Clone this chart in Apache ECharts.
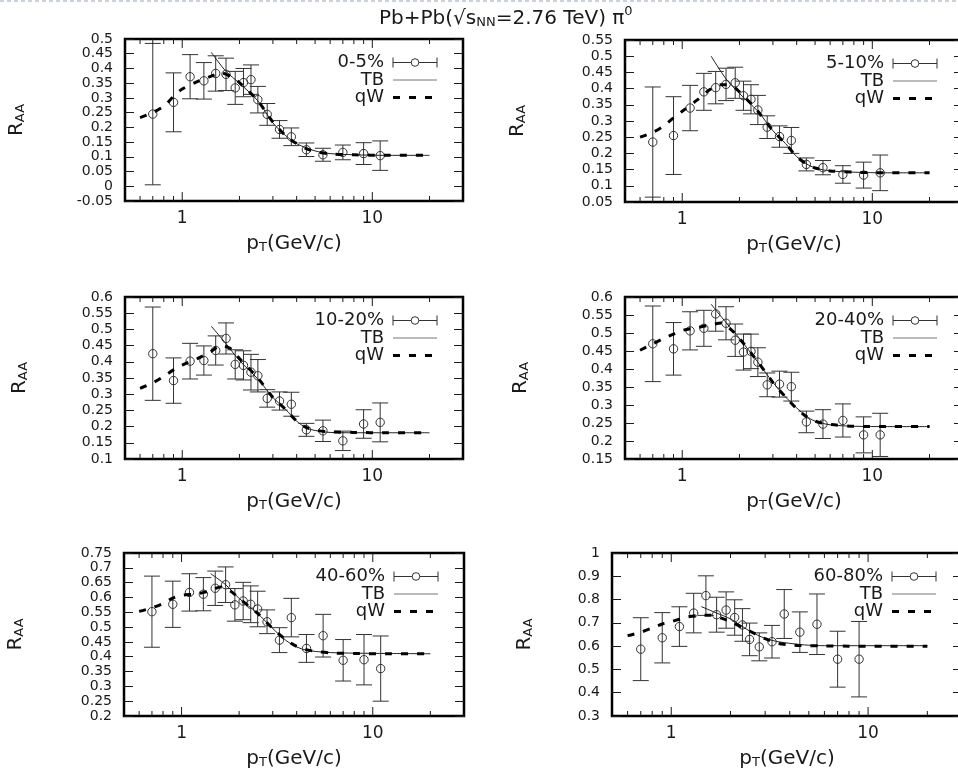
<!DOCTYPE html>
<html><head><meta charset="utf-8">
<script src="https://cdn.jsdelivr.net/npm/echarts@6/dist/echarts.min.js"></script>
<style>html,body{margin:0;padding:0;background:#fff}#c{width:958px;height:773px}</style>
</head><body><div id="c"></div>
<script>
// ---------- DATA ----------
const pT = [0.7,0.9,1.1,1.3,1.5,1.7,1.9,2.1,2.3,2.5,2.8,3.25,3.75,4.5,5.5,7,9,11];
const centralities = ['0-5%','5-10%','10-20%','20-40%','40-60%','60-80%'];

const raa_0_5   = [0.245,0.285,0.372,0.358,0.383,0.38,0.334,0.352,0.362,0.294,0.244,0.193,0.168,0.124,0.107,0.115,0.111,0.104];
const err_0_5   = [0.24,0.10,0.075,0.062,0.06,0.055,0.056,0.048,0.05,0.045,0.037,0.03,0.03,0.023,0.022,0.025,0.037,0.05];
const raa_5_10  = [0.235,0.255,0.34,0.39,0.403,0.413,0.418,0.378,0.367,0.334,0.281,0.252,0.24,0.166,0.156,0.135,0.133,0.14];
const err_5_10  = [0.17,0.12,0.07,0.057,0.05,0.05,0.048,0.045,0.045,0.045,0.035,0.033,0.04,0.02,0.022,0.027,0.04,0.055];
const raa_10_20 = [0.425,0.342,0.402,0.404,0.435,0.472,0.392,0.389,0.368,0.357,0.287,0.279,0.269,0.19,0.187,0.156,0.208,0.213];
const err_10_20 = [0.144,0.07,0.055,0.045,0.045,0.048,0.045,0.045,0.055,0.05,0.027,0.028,0.037,0.02,0.033,0.03,0.044,0.06];
const raa_20_40 = [0.47,0.456,0.506,0.513,0.553,0.527,0.48,0.447,0.449,0.419,0.356,0.358,0.351,0.253,0.247,0.257,0.217,0.217];
const err_20_40 = [0.105,0.073,0.053,0.05,0.048,0.046,0.045,0.05,0.048,0.04,0.033,0.036,0.04,0.03,0.04,0.046,0.05,0.06];
const raa_40_60 = [0.552,0.577,0.617,0.611,0.631,0.643,0.575,0.588,0.577,0.561,0.518,0.456,0.532,0.428,0.471,0.388,0.39,0.36];
const err_40_60 = [0.12,0.078,0.063,0.056,0.058,0.06,0.055,0.063,0.062,0.06,0.04,0.042,0.065,0.047,0.072,0.07,0.085,0.11];
const raa_60_80 = [0.587,0.636,0.684,0.742,0.817,0.735,0.755,0.723,0.691,0.629,0.597,0.619,0.738,0.66,0.694,0.544,0.544];
const err_60_80 = [0.135,0.108,0.085,0.085,0.085,0.075,0.078,0.076,0.07,0.07,0.06,0.07,0.105,0.087,0.13,0.12,0.162];

// TB model curve
const tbX = [1.42,1.7,2,2.5,3,3.5,4,4.5,5,6,8,12,20];
const tb_0_5   = [0.455,0.39,0.35,0.29,0.215,0.172,0.145,0.13,0.12,0.111,0.107,0.105,0.105];
const tb_5_10  = [0.5,0.43,0.385,0.33,0.27,0.23,0.19,0.168,0.155,0.146,0.142,0.14,0.14];
const tb_10_20 = [0.51,0.456,0.404,0.347,0.29,0.253,0.217,0.196,0.188,0.182,0.181,0.181,0.181];
const tb_20_40 = [0.58,0.529,0.485,0.419,0.363,0.322,0.292,0.269,0.255,0.245,0.241,0.24,0.24];
const tb_40_60 = [0.68,0.643,0.597,0.546,0.495,0.456,0.433,0.422,0.418,0.414,0.412,0.411,0.41];
const tb_60_80 = [0.77,0.742,0.717,0.665,0.633,0.619,0.612,0.607,0.604,0.602,0.602,0.602,0.602];

// qW model curve
const qwX = [0.6,0.7,0.8,0.9,1.0,1.2,1.4,1.6,1.8,2,2.5,3,3.5,4,4.5,5,6,8,12,20];
const qw_0_5   = [0.233,0.25,0.272,0.305,0.33,0.355,0.372,0.385,0.372,0.352,0.29,0.218,0.172,0.145,0.128,0.118,0.11,0.107,0.105,0.105];
const qw_5_10  = [0.25,0.265,0.285,0.31,0.33,0.365,0.397,0.412,0.41,0.39,0.33,0.27,0.23,0.19,0.168,0.155,0.146,0.142,0.14,0.14];
const qw_10_20 = [0.318,0.335,0.355,0.375,0.39,0.41,0.43,0.45,0.44,0.41,0.35,0.29,0.253,0.217,0.197,0.189,0.184,0.182,0.181,0.181];
const qw_20_40 = [0.452,0.47,0.485,0.497,0.507,0.515,0.522,0.528,0.51,0.485,0.42,0.363,0.322,0.29,0.268,0.255,0.246,0.241,0.24,0.24];
const qw_40_60 = [0.553,0.565,0.58,0.598,0.607,0.612,0.622,0.635,0.622,0.597,0.546,0.495,0.458,0.435,0.424,0.418,0.413,0.411,0.41,0.41];
const qw_60_80 = [0.645,0.66,0.678,0.695,0.705,0.725,0.732,0.733,0.72,0.705,0.665,0.632,0.612,0.606,0.603,0.602,0.601,0.6,0.6,0.6];

// axis ranges / ticks
const xRange = [0.5, 30];
const xMajorTicks = [1, 10];
const xMinorTicks = [0.6,0.7,0.8,0.9,2,3,4,5,6,7,8,9,20];
const yMins  = [-0.05,0.05,0.1,0.15,0.2,0.3];
const yMaxs  = [0.5,0.55,0.6,0.6,0.75,1.0];
const ySteps = [0.05,0.05,0.05,0.05,0.05,0.1];

// ---------- LAYOUT ----------
const raaSets = [raa_0_5,raa_5_10,raa_10_20,raa_20_40,raa_40_60,raa_60_80];
const errSets = [err_0_5,err_5_10,err_10_20,err_20_40,err_40_60,err_60_80];
const tbSets  = [tb_0_5,tb_5_10,tb_10_20,tb_20_40,tb_40_60,tb_60_80];
const qwSets  = [qw_0_5,qw_5_10,qw_10_20,qw_20_40,qw_40_60,qw_60_80];

const grids = [
  {left:125, top:39,  width:338, height:162},
  {left:625, top:40,  width:338, height:162},
  {left:125, top:297, width:338, height:162},
  {left:625, top:297, width:338, height:162},
  {left:124, top:553, width:340, height:163},
  {left:612, top:553, width:350, height:163}
];
const yNameGaps = [98, 97, 95, 94, 98, 77];
const FONT = '"DejaVu Sans", Verdana, sans-serif';
const INK = '#1a1a1a';

const chart = echarts.init(document.getElementById('c'));

function errorBarItem(params, api) {
  const x = api.value(0), y = api.value(1), e = api.value(2);
  const c = api.coord([x, y]);
  const hi = api.coord([x, y + e]);
  const lo = api.coord([x, y - e]);
  const cw = 8, r = 4.2;
  const st = {stroke: '#333', lineWidth: 1, fill: null};
  return {type: 'group', children: [
    {type: 'line', shape: {x1: c[0], y1: hi[1], x2: c[0], y2: lo[1]}, style: st},
    {type: 'line', shape: {x1: c[0]-cw, y1: hi[1], x2: c[0]+cw, y2: hi[1]}, style: st},
    {type: 'line', shape: {x1: c[0]-cw, y1: lo[1], x2: c[0]+cw, y2: lo[1]}, style: st},
    {type: 'circle', shape: {cx: c[0], cy: c[1], r: r}, style: {stroke: '#333', fill: 'rgba(255,255,255,0)', lineWidth: 1}}
  ]};
}
function tickItem(params, api) {
  const cs = params.coordSys;
  const px = api.coord([api.value(0), api.value(1)])[0];
  const len = api.value(2);
  const st = {stroke: INK, lineWidth: 1};
  const yb = cs.y + cs.height, yt = cs.y;
  return {type: 'group', children: [
    {type: 'line', shape: {x1: px, y1: yb, x2: px, y2: yb - len}, style: st},
    {type: 'line', shape: {x1: px, y1: yt, x2: px, y2: yt + len}, style: st}
  ]};
}

const xAxes = [], yAxes = [], series = [], graphics = [];
const subRich = {
  a: {fontSize: 20, fontFamily: FONT, color: INK, lineHeight: 24, verticalAlign: 'bottom'},
  b: {fontSize: 13, fontFamily: FONT, color: INK, lineHeight: 14, verticalAlign: 'bottom'}
};

grids.forEach((g, i) => {
  xAxes.push({
    type: 'log', logBase: 10, gridIndex: i, min: xRange[0], max: xRange[1],
    axisLine: {show: false}, axisTick: {show: false}, splitLine: {show: false},
    axisLabel: {
      fontSize: 17, fontFamily: FONT, color: INK, margin: 9,
      formatter: v => (Math.abs(v - 1) < 1e-6 ? '1' : (Math.abs(v - 10) < 1e-5 ? '10' : ''))
    },
    name: '{a|p}{b|T}{a|(GeV/c)}', nameLocation: 'middle', nameGap: 29,
    nameTextStyle: {rich: subRich}
  });
  const yCommon = {
    type: 'value', gridIndex: i, min: yMins[i], max: yMaxs[i], interval: ySteps[i],
    axisLine: {show: false}, splitLine: {show: false},
    axisTick: {show: true, inside: true, length: 9, lineStyle: {color: INK, width: 1}}
  };
  yAxes.push(Object.assign({}, yCommon, {
    position: 'left',
    axisLabel: {fontSize: 14, fontFamily: FONT, color: INK, margin: 12, showMinLabel: true, showMaxLabel: true},
    name: '{a|R}{b|AA}', nameLocation: 'middle', nameGap: yNameGaps[i], nameRotate: 90,
    nameTextStyle: {rich: subRich}
  }));
  yAxes.push(Object.assign({}, yCommon, {position: 'right', axisLabel: {show: false}}));

  const raa = raaSets[i], err = errSets[i];
  series.push({
    type: 'custom', name: centralities[i], xAxisIndex: i, yAxisIndex: 2*i, clip: true,
    renderItem: errorBarItem, silent: true, z: 3,
    data: raa.map((v, k) => [pT[k], v, err[k]])
  });
  series.push({
    type: 'line', name: 'TB', xAxisIndex: i, yAxisIndex: 2*i, showSymbol: false, smooth: 0.3,
    silent: true, z: 4, lineStyle: {color: '#222', width: 1},
    data: tbX.map((x, k) => [x, tbSets[i][k]])
  });
  series.push({
    type: 'line', name: 'qW', xAxisIndex: i, yAxisIndex: 2*i, showSymbol: false, smooth: 0.3,
    silent: true, z: 5, lineStyle: {color: '#000', width: 3, type: [7, 9]},
    data: qwX.map((x, k) => [x, qwSets[i][k]])
  });
  series.push({
    type: 'custom', xAxisIndex: i, yAxisIndex: 2*i, renderItem: tickItem, silent: true, z: 6,
    data: xMinorTicks.map(x => [x, yMins[i], 5]).concat(xMajorTicks.map(x => [x, yMins[i], 9]))
  });

  // legend
  const symRight = g.left + g.width - 26, symLeft = symRight - 44, txtRight = symLeft - 9;
  const rows = [g.top + 23.5, g.top + 41, g.top + 58.5];
  const labels = [centralities[i], 'TB', 'qW'];
  labels.forEach((t, k) => {
    graphics.push({type: 'text', x: txtRight, y: rows[k], z: 10,
      style: {text: t, fontSize: 18, fontFamily: FONT, fill: INK, textAlign: 'right', textVerticalAlign: 'middle'}});
  });
  const mid = (symLeft + symRight) / 2;
  graphics.push({type: 'line', z: 10, shape: {x1: symLeft, y1: rows[0], x2: symRight, y2: rows[0]}, style: {stroke: '#333', lineWidth: 1}});
  graphics.push({type: 'line', z: 10, shape: {x1: symLeft, y1: rows[0]-5, x2: symLeft, y2: rows[0]+5}, style: {stroke: '#333', lineWidth: 1}});
  graphics.push({type: 'line', z: 10, shape: {x1: symRight, y1: rows[0]-5, x2: symRight, y2: rows[0]+5}, style: {stroke: '#333', lineWidth: 1}});
  graphics.push({type: 'circle', z: 10, shape: {cx: mid, cy: rows[0], r: 3.8}, style: {stroke: '#333', fill: '#fff', lineWidth: 1}});
  graphics.push({type: 'line', z: 10, shape: {x1: symLeft, y1: rows[1], x2: symRight, y2: rows[1]}, style: {stroke: '#777', lineWidth: 1}});
  graphics.push({type: 'line', z: 10, shape: {x1: symLeft, y1: rows[2], x2: symRight, y2: rows[2]}, style: {stroke: '#000', lineWidth: 3, lineDash: [7, 9]}});
});

// dashed scan border at top
graphics.push({type: 'line', shape: {x1: 0, y1: 1, x2: 958, y2: 1}, style: {stroke: '#9aa3b5', lineWidth: 1, lineDash: [4, 3]}});

chart.setOption({
  animation: false,
  backgroundColor: '#fff',
  title: {
    text: '{a|Pb+Pb(√s}{b|NN}{a|=2.76 TeV) π}{c|0}',
    left: 374, top: 0,
    textStyle: {fontWeight: 'normal', rich: {
      a: {fontSize: 20, fontFamily: FONT, fontWeight: 'normal', color: INK, lineHeight: 24, verticalAlign: 'bottom'},
      b: {fontSize: 13, fontFamily: FONT, fontWeight: 'normal', color: INK, lineHeight: 14, verticalAlign: 'bottom'},
      c: {fontSize: 13, fontFamily: FONT, fontWeight: 'normal', color: INK, lineHeight: 14, verticalAlign: 'top'}
    }}
  },
  grid: grids.map(g => Object.assign({show: true, borderColor: '#000', borderWidth: 2.5, backgroundColor: '#fff', containLabel: false, outerBoundsMode: 'none'}, g)),
  xAxis: xAxes,
  yAxis: yAxes,
  series: series,
  graphic: graphics
});
</script>
</body></html>
